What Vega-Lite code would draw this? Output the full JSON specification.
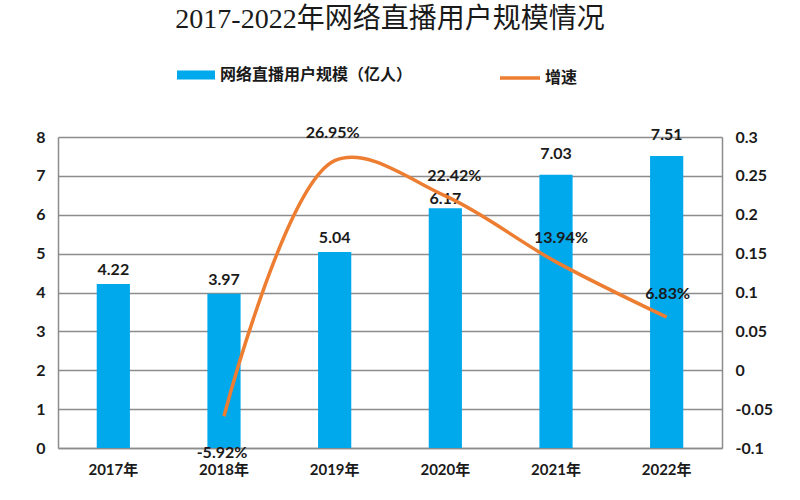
{
  "$schema": "https://vega.github.io/schema/vega-lite/v6.json",
  "width": 664,
  "height": 311,
  "autosize": "none",
  "padding": {"left": 58, "top": 137, "right": 78, "bottom": 52},
  "background": "white",
  "title": {
    "text": "2017-2022年网络直播用户规模情况",
    "font": "Liberation Serif, Noto Sans CJK SC",
    "fontSize": 28,
    "fontWeight": "normal",
    "color": "#1a1a1a",
    "anchor": "middle",
    "frame": "group",
    "baseline": "middle",
    "offset": 8
  },
  "data": {
    "values": [
      {"year": "2017年", "users": 4.22, "growth": null},
      {"year": "2018年", "users": 3.97, "growth": -0.0592},
      {"year": "2019年", "users": 5.04, "growth": 0.2695},
      {"year": "2020年", "users": 6.17, "growth": 0.2242},
      {"year": "2021年", "users": 7.03, "growth": 0.1394},
      {"year": "2022年", "users": 7.51, "growth": 0.0683}
    ]
  },
  "encoding": {
    "x": {
      "field": "year",
      "type": "nominal",
      "sort": null,
      "scale": {"paddingInner": 0.7, "paddingOuter": 0.35},
      "axis": {
        "title": null,
        "labelAngle": 0,
        "labelFont": "Lato, Noto Sans CJK SC",
        "labelFontSize": 15,
        "labelFontWeight": "bold",
        "labelColor": "#1a1a1a",
        "labelPadding": 14,
        "ticks": false,
        "domainColor": "#8c8c8c",
        "domainWidth": 1.5
      }
    }
  },
  "layer": [
    {
      "encoding": {
        "y": {
          "field": "users",
          "type": "quantitative",
          "scale": {"domain": [0, 8], "nice": false},
          "axis": {
            "orient": "left",
            "title": null,
            "values": [0, 1, 2, 3, 4, 5, 6, 7, 8],
            "format": "d",
            "grid": true,
            "gridColor": "#8c8c8c",
            "gridWidth": 1.5,
            "ticks": false,
            "domainColor": "#8c8c8c",
            "domainWidth": 1.5,
            "labelFont": "Lato",
            "labelFontSize": 16,
            "labelFontWeight": "bold",
            "labelColor": "#1a1a1a",
            "labelPadding": 13
          }
        }
      },
      "layer": [
        {
          "mark": {"type": "bar"},
          "encoding": {
            "fill": {
              "datum": "网络直播用户规模（亿人）",
              "scale": {"range": ["#00a9ec"]},
              "legend": {
                "orient": "none",
                "legendX": 119,
                "legendY": -81,
                "title": null,
                "padding": 0,
                "symbolType": "M-1,-0.237H1V0.237H-1Z",
                "symbolSize": 1444,
                "symbolStrokeWidth": 0,
                "labelFont": "Noto Sans CJK SC",
                "labelFontSize": 16,
                "labelFontWeight": "bold",
                "labelColor": "#1a1a1a",
                "labelOffset": 5,
                "labelLimit": 0
              }
            }
          }
        },
        {
          "transform": [{"filter": "datum.year=='2017年' || datum.year=='2018年' || datum.year=='2019年'"}],
          "mark": {"type": "text", "dy": -14, "baseline": "middle", "font": "Lato", "fontSize": 16, "fontWeight": "bold", "color": "#1a1a1a"},
          "encoding": {"text": {"field": "users", "type": "quantitative", "format": ".2f"}}
        },
        {
          "transform": [{"filter": "datum.year=='2020年'"}],
          "mark": {"type": "text", "dy": -9, "baseline": "middle", "font": "Lato", "fontSize": 16, "fontWeight": "bold", "color": "#1a1a1a"},
          "encoding": {"text": {"field": "users", "type": "quantitative", "format": ".2f"}}
        },
        {
          "transform": [{"filter": "datum.year=='2021年' || datum.year=='2022年'"}],
          "mark": {"type": "text", "dy": -21, "baseline": "middle", "font": "Lato", "fontSize": 16, "fontWeight": "bold", "color": "#1a1a1a"},
          "encoding": {"text": {"field": "users", "type": "quantitative", "format": ".2f"}}
        }
      ]
    },
    {
      "transform": [{"filter": "datum.growth != null"}],
      "encoding": {
        "y": {
          "field": "growth",
          "type": "quantitative",
          "scale": {"domain": [-0.1, 0.3], "nice": false, "zero": false},
          "axis": {
            "orient": "right",
            "title": null,
            "values": [-0.1, -0.05, 0, 0.05, 0.1, 0.15, 0.2, 0.25, 0.3],
            "format": ".2~f",
            "grid": false,
            "ticks": false,
            "domainColor": "#8c8c8c",
            "domainWidth": 1.5,
            "labelFont": "Lato",
            "labelFontSize": 16,
            "labelFontWeight": "bold",
            "labelColor": "#1a1a1a",
            "labelPadding": 13
          }
        }
      },
      "layer": [
        {
          "mark": {"type": "line", "interpolate": "catmull-rom", "strokeWidth": 3.5},
          "encoding": {
            "stroke": {
              "datum": "增速",
              "scale": {"range": ["#ed7d31"]},
              "legend": {
                "orient": "none",
                "legendX": 440,
                "legendY": -81,
                "title": null,
                "padding": 0,
                "symbolType": "stroke",
                "symbolSize": 1600,
                "symbolStrokeWidth": 3.5,
                "labelFont": "Noto Sans CJK SC",
                "labelFontSize": 16,
                "labelFontWeight": "bold",
                "labelColor": "#1a1a1a",
                "labelOffset": 3,
                "labelLimit": 0
              }
            }
          }
        },
        {
          "transform": [{"filter": "datum.year=='2018年'"}],
          "mark": {"type": "text", "dx": -2, "dy": 37, "baseline": "middle", "font": "Lato", "fontSize": 16, "fontWeight": "bold", "color": "#1a1a1a"},
          "encoding": {"text": {"field": "growth", "type": "quantitative", "format": ".2%"}}
        },
        {
          "transform": [{"filter": "datum.year=='2019年'"}],
          "mark": {"type": "text", "dx": -2, "dy": -28, "baseline": "middle", "font": "Lato", "fontSize": 16, "fontWeight": "bold", "color": "#1a1a1a"},
          "encoding": {"text": {"field": "growth", "type": "quantitative", "format": ".2%"}}
        },
        {
          "transform": [{"filter": "datum.year=='2020年'"}],
          "mark": {"type": "text", "dx": 9, "dy": -20, "baseline": "middle", "font": "Lato", "fontSize": 16, "fontWeight": "bold", "color": "#1a1a1a"},
          "encoding": {"text": {"field": "growth", "type": "quantitative", "format": ".2%"}}
        },
        {
          "transform": [{"filter": "datum.year=='2021年'"}],
          "mark": {"type": "text", "dx": 5, "dy": -24, "baseline": "middle", "font": "Lato", "fontSize": 16, "fontWeight": "bold", "color": "#1a1a1a"},
          "encoding": {"text": {"field": "growth", "type": "quantitative", "format": ".2%"}}
        },
        {
          "transform": [{"filter": "datum.year=='2022年'"}],
          "mark": {"type": "text", "dx": 1, "dy": -23, "baseline": "middle", "font": "Lato", "fontSize": 16, "fontWeight": "bold", "color": "#1a1a1a"},
          "encoding": {"text": {"field": "growth", "type": "quantitative", "format": ".2%"}}
        }
      ]
    }
  ],
  "resolve": {"scale": {"y": "independent"}},
  "config": {
    "view": {"stroke": null},
    "locale": {
      "number": {"decimal": ".", "thousands": ",", "grouping": [3], "currency": ["", ""], "minus": "-"}
    }
  }
}
